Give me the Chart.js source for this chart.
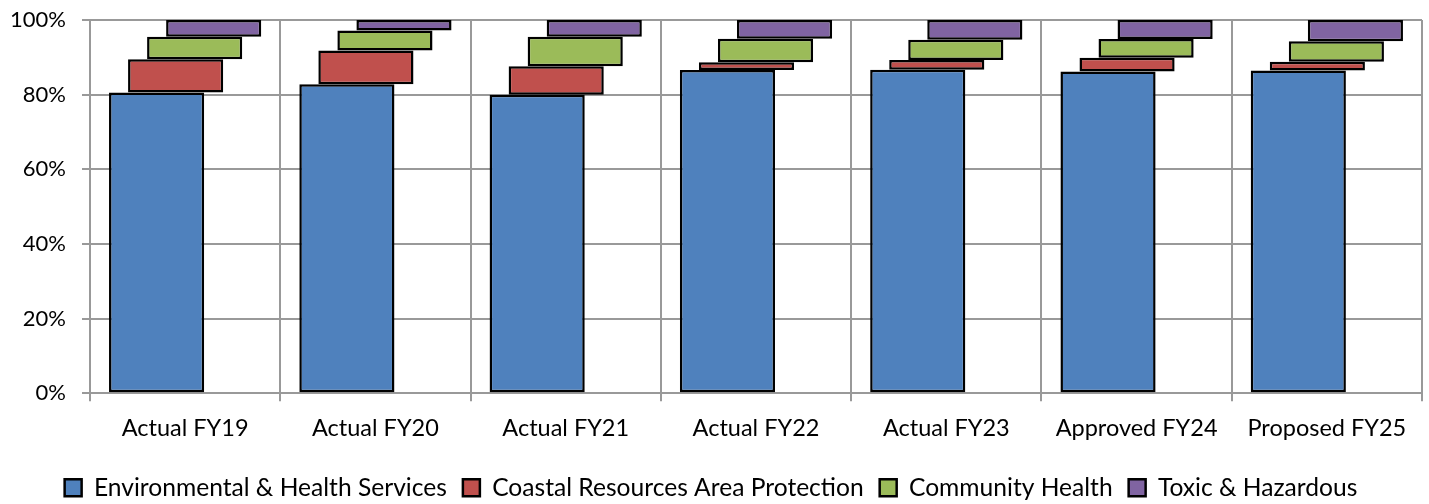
<!DOCTYPE html>
<html>
<head>
<meta charset="utf-8">
<script src="https://cdn.jsdelivr.net/npm/chart.js@4"></script>
<style>
  html, body { margin: 0; background: #fff; }
  #wrap { width: 1429px; height: 504px; }
</style>
</head>
<body>
<div id="wrap"><canvas id="chart"></canvas></div>
<script>
const years = ["Actual FY19", "Actual FY20", "Actual FY21", "Actual FY22", "Actual FY23", "Approved FY24", "Proposed FY25"];
const seriesNames = ["Environmental & Health Services", "Coastal Resources Area Protection", "Community Health", "Toxic & Hazardous"];

// share of each year's total, in percent
const envHealth = [80.6, 82.8, 80.0, 86.6, 86.7, 86.2, 86.5];
const coastal   = [8.9, 9.0, 7.6, 2.1, 2.6, 3.7, 2.3];
const community = [6.0, 5.4, 7.9, 6.3, 5.4, 5.0, 5.5];
const toxic     = [4.5, 2.8, 4.5, 5.0, 5.3, 5.1, 5.7];

const yTicks = [0, 20, 40, 60, 80, 100];

const colors = ["#4F81BD", "#C0504D", "#9BBB59", "#8064A2"];

// each series floats on top of the previous ones
function floatRanges(allSeries) {
    const base = years.map(() => 0);
    return allSeries.map(s => s.map((v, i) => {
        const lo = base[i];
        base[i] = lo + v;
        return [lo, base[i]];
    }));
}

const ranges = floatRanges([envHealth, coastal, community, toxic]);

const datasets = ranges.map((r, k) => ({
    label: seriesNames[k],
    data: r,
    backgroundColor: colors[k],
    borderColor: "#000",
    borderWidth: 2.5,
    borderSkipped: false,
    categoryPercentage: 0.4,
    barPercentage: 5,
}));

new Chart(document.getElementById("chart"), {
    type: "bar",
    data: { labels: years, datasets },
    options: {
        responsive: true,
        maintainAspectRatio: false,
        animation: false,
        layout: { padding: { top: 20, right: 7, left: 0, bottom: -6 } },
        plugins: {
            tooltip: { enabled: false },
            legend: {
                position: "bottom",
                labels: {
                    color: "#000",
                    font: { family: "Lato", size: 24.6 },
                    boxWidth: 17,
                    boxHeight: 17,
                    padding: 16,
                },
            },
        },
        scales: {
            x: {
                afterFit(axis) { axis.height += 4; },
                grid: {
                    offset: true,
                    color: "#999",
                    lineWidth: 2,
                    tickLength: 8,
                },
                border: { color: "#999", width: 2 },
                ticks: {
                    color: "#000",
                    font: { family: "Lato", size: 23.5 },
                    padding: 13,
                    maxRotation: 0,
                },
            },
            y: {
                min: 0,
                max: 100,
                afterFit(axis) {
                    axis.width = 90;
                    axis.paddingTop = 0;
                    axis.paddingBottom = 0;
                },
                afterBuildTicks(axis) { axis.ticks = yTicks.map(v => ({ value: v })); },
                grid: {
                    color: "#999",
                    lineWidth: 2,
                    tickLength: 8,
                },
                border: { color: "#999", width: 2 },
                ticks: {
                    color: "#000",
                    font: { family: "Lato", size: 22 },
                    padding: 16,
                    callback: v => v + "%",
                },
            },
        },
    },
});
</script>
</body>
</html>
